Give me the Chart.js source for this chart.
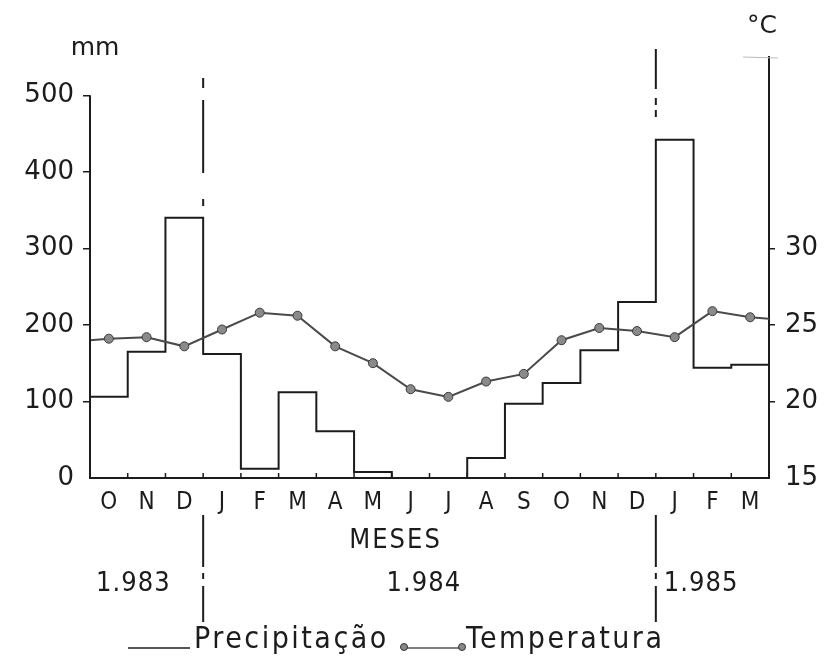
<!DOCTYPE html>
<html lang="pt">
<head>
<meta charset="utf-8">
<title>Precipitação e Temperatura</title>
<script src="https://cdn.jsdelivr.net/npm/chart.js@4.4.1/dist/chart.umd.min.js"></script>
<style>
  html, body { margin: 0; padding: 0; background: #fff; }
  #wrap { width: 827px; height: 668px; }
</style>
</head>
<body>
<div id="wrap"><canvas id="climaChart" width="827" height="668"></canvas></div>
<script>
// Meses de outubro/1983 a março/1985
const months = ['O', 'N', 'D', 'J', 'F', 'M', 'A', 'M', 'J', 'J', 'A', 'S', 'O', 'N', 'D', 'J', 'F', 'M'];
// Precipitação mensal (mm)
const precipitation = [106, 165, 340, 162, 12, 112, 61, 8, 0, 0, 26, 97, 124, 167, 230, 442, 144, 148];
// Temperatura média mensal (°C)
const temperature = [24.1, 24.2, 23.6, 24.7, 25.8, 25.6, 23.6, 22.5, 20.8, 20.3, 21.3, 21.8, 24.0, 24.8, 24.6, 24.2, 25.9, 25.5];
// a linha de temperatura encosta nos dois eixos
const tempStart = 24.0;
const tempEnd = 25.4;
const mmTicks = [0, 100, 200, 300, 400, 500];
const tempTicks = [15, 20, 25, 30];
const yearLabels = ['1.983', '1.984', '1.985'];
const yearBreaks = [3, 15];

const INK = '#1c1c1c';
const COND = "'DejaVu Sans Condensed', 'DejaVu Sans', sans-serif";
const SANS = "'DejaVu Sans', sans-serif";

/**
 * Build series in month units (0 .. 18)
 */
const precipPoints = precipitation.map((v, i) => ({ x: i, y: v }));
precipPoints.push({ x: months.length, y: precipitation[precipitation.length - 1] });

const tempPoints = [{ x: 0, y: tempStart }]
    .concat(temperature.map((v, i) => ({ x: i + 0.5, y: v })))
    .concat([{ x: months.length, y: tempEnd }]);
const tempRadius = tempPoints.map((p, i) => (i === 0 || i === tempPoints.length - 1) ? 0 : 4.5);

/**
 * Axis lines, ticks, year dividers and texts
 */
const decorations = {
    id: 'decorations',
    afterDraw(chart) {
        const { ctx, chartArea, scales: { x, y } } = chart;
        const y0 = y.getPixelForValue(0);
        ctx.save();
        ctx.strokeStyle = INK;
        ctx.fillStyle = INK;

        // left axis stops at 500 mm
        ctx.lineWidth = 2;
        ctx.beginPath();
        ctx.moveTo(chartArea.left, y0 + 1);
        ctx.lineTo(chartArea.left, y.getPixelForValue(500));
        ctx.stroke();

        // small month ticks pointing up
        ctx.lineWidth = 1.5;
        ctx.beginPath();
        for (let i = 1; i < months.length; i++) {
            const px = x.getPixelForValue(i);
            ctx.moveTo(px, y0);
            ctx.lineTo(px, y0 - 5);
        }
        ctx.stroke();

        // faint mark on top of the right axis
        ctx.strokeStyle = '#bbb';
        ctx.lineWidth = 1;
        ctx.beginPath();
        ctx.moveTo(chartArea.right - 26, chartArea.top);
        ctx.lineTo(chartArea.right + 9, chartArea.top + 1);
        ctx.stroke();

        // year dividers (dash-dot)
        const upper = [
            [[78, 88], [100, 173], [199, 206]],
            [[49, 89], [98, 105], [110, 117]]
        ];
        const lower = [[515, 567], [573, 579], [586, 622]];
        ctx.strokeStyle = INK;
        ctx.lineWidth = 2;
        yearBreaks.forEach((b, k) => {
            const px = x.getPixelForValue(b);
            ctx.beginPath();
            upper[k].concat(lower).forEach(([a, c]) => {
                ctx.moveTo(px, a);
                ctx.lineTo(px, c);
            });
            ctx.stroke();
        });

        // unit labels
        ctx.textAlign = 'center';
        ctx.textBaseline = 'middle';
        ctx.font = '25px ' + SANS;
        ctx.fillText('mm', 95, 48);
        ctx.fillText('°C', 762, 26);

        // axis title and years
        ctx.letterSpacing = '2px';
        ctx.font = '27px ' + COND;
        ctx.fillText('MESES', x.getPixelForValue(8.1), 541);
        const yearPos = [1.15, 8.85, 16.2];
        ctx.letterSpacing = '1px';
        ctx.font = '27px ' + COND;
        yearLabels.forEach((t, i) => ctx.fillText(t, x.getPixelForValue(yearPos[i]), 584));

        // legend
        const ly = 648;
        ctx.lineWidth = 1.5;
        ctx.beginPath();
        ctx.moveTo(128, ly);
        ctx.lineTo(190, ly);
        ctx.stroke();
        ctx.textAlign = 'left';
        ctx.textBaseline = 'alphabetic';
        ctx.letterSpacing = '2.5px';
        ctx.font = '30px ' + COND;
        ctx.fillText('Precipitação', 194, ly);

        ctx.strokeStyle = '#555';
        ctx.beginPath();
        ctx.moveTo(404, ly);
        ctx.lineTo(462, ly);
        ctx.stroke();
        [404, 462].forEach(cx => {
            ctx.beginPath();
            ctx.arc(cx, ly - 1, 3.5, 0, Math.PI * 2);
            ctx.fillStyle = '#888';
            ctx.fill();
            ctx.strokeStyle = '#333';
            ctx.lineWidth = 1;
            ctx.stroke();
        });
        ctx.fillStyle = INK;
        ctx.fillText('Temperatura', 466, ly);
        ctx.restore();
    }
};

const ctx = document.getElementById('climaChart').getContext('2d');

new Chart(ctx, {
    type: 'line',
    data: {
        datasets: [{
            label: 'Temperatura',
            data: tempPoints,
            yAxisID: 'y2',
            borderColor: '#4a4a4a',
            borderWidth: 2,
            pointRadius: tempRadius,
            pointBackgroundColor: '#8a8a8a',
            pointBorderColor: '#3a3a3a',
            pointBorderWidth: 1,
            tension: 0,
            fill: false
        }, {
            label: 'Precipitação',
            data: precipPoints,
            yAxisID: 'y',
            stepped: 'before',
            borderColor: INK,
            borderWidth: 2,
            pointRadius: 0,
            fill: false
        }]
    },
    options: {
        responsive: false,
        animation: false,
        devicePixelRatio: 1,
        layout: {
            padding: { top: 57, left: 0, right: 0, bottom: 0 }
        },
        plugins: {
            legend: { display: false },
            tooltip: { enabled: false }
        },
        scales: {
            x: {
                type: 'linear',
                min: 0,
                max: months.length,
                afterBuildTicks: scale => {
                    scale.ticks = months.map((m, i) => ({ value: i + 0.5 }));
                },
                afterFit: scale => { scale.height = 190; },
                grid: { display: false },
                border: { display: true, color: INK, width: 2 },
                ticks: {
                    autoSkip: false,
                    maxRotation: 0,
                    padding: 2,
                    color: INK,
                    font: { family: COND, size: 24 },
                    callback: (value, index) => months[index]
                }
            },
            y: {
                position: 'left',
                min: 0,
                max: 550,
                afterBuildTicks: scale => {
                    scale.ticks = mmTicks.map(v => ({ value: v }));
                },
                afterFit: scale => { scale.width = 90; },
                border: { display: false },
                grid: {
                    drawOnChartArea: false,
                    drawTicks: true,
                    tickLength: 7,
                    lineWidth: 1.5,
                    color: c => c.tick && c.tick.value === 0 ? 'rgba(0,0,0,0)' : INK
                },
                ticks: {
                    padding: 9,
                    color: INK,
                    font: { family: SANS, size: 26 }
                }
            },
            y2: {
                position: 'right',
                min: 15,
                max: 15 + 550 / 20,
                afterBuildTicks: scale => {
                    scale.ticks = tempTicks.map(v => ({ value: v }));
                },
                afterFit: scale => { scale.width = 58; },
                border: { display: true, color: INK, width: 2 },
                grid: {
                    drawOnChartArea: false,
                    drawTicks: true,
                    tickLength: 6,
                    lineWidth: 1.5,
                    color: c => c.tick && c.tick.value === 15 ? 'rgba(0,0,0,0)' : INK
                },
                ticks: {
                    padding: 10,
                    color: INK,
                    font: { family: SANS, size: 26 }
                }
            }
        }
    },
    plugins: [decorations]
});
</script>
</body>
</html>
